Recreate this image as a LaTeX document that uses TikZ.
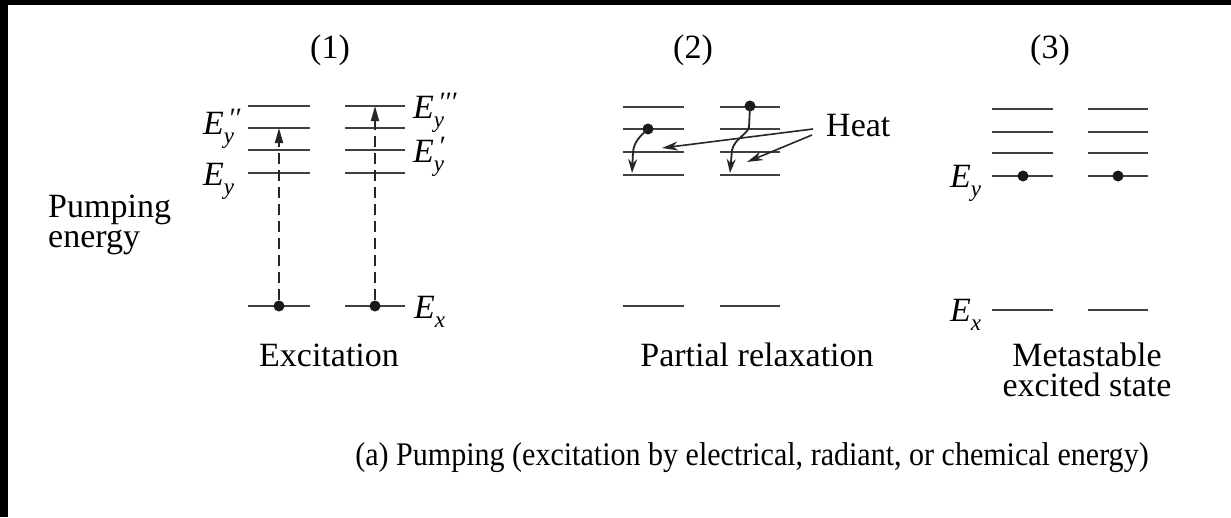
\documentclass[tikz,border=0pt]{standalone}
\usepackage{fontspec}
\newfontfamily\timesf{Liberation Serif}
\usetikzlibrary{arrows.meta}
\newcommand{\Elab}[2]{\textit{E}\rlap{\raisebox{-0.28em}{\fontsize{23}{23}\selectfont\textit{#1}}}\kern0.12em\raisebox{0.2em}{\fontsize{28}{28}\selectfont\textit{#2}}}
\begin{document}
\begin{tikzpicture}[x=1pt,y=-1pt,
  lvl/.style={line width=2.6pt,draw=black!75},
  dot/.style={circle,fill=black!90,inner sep=0pt,minimum size=11pt},
  lbl/.style={font=\timesf\fontsize{34}{30}\selectfont,inner sep=0pt},
  captxt/.style={font=\timesf\fontsize{33}{33}\selectfont,inner sep=0pt},
  pump/.style={line width=1.8pt,draw=black!85,dash pattern=on 11pt off 6pt,-{Triangle[length=15pt,width=8pt]}},
  relax/.style={line width=1.8pt,draw=black!85,-{Stealth[length=14pt,width=9pt]}},
  heat/.style={line width=1.6pt,draw=black!85,-{Stealth[length=16pt,width=9pt]}}]
\useasboundingbox (0,0) rectangle (1231,517);
\fill[white] (0,0) rectangle (1231,517);
\fill[black] (0,0) rectangle (1231,5);
\fill[black] (0,0) rectangle (8,517);
% energy levels
\foreach \xa/\xb in {248/310,345/405}
  \foreach \y in {106,128,150,173,306}
    \draw[lvl] (\xa,\y) -- (\xb,\y);
\foreach \xa/\xb in {623/684,720/780}
  \foreach \y in {107,129,152,175,306}
    \draw[lvl] (\xa,\y) -- (\xb,\y);
\foreach \xa/\xb in {992/1053,1088/1148}
  \foreach \y in {109,132,153,176,310}
    \draw[lvl] (\xa,\y) -- (\xb,\y);
% titles
\node[lbl] (t1) at (330,50) {(1)};
\node[lbl] (t2) at (693,50) {(2)};
\node[lbl] (t3) at (1050,50) {(3)};
\node[lbl,anchor=base west] (pe1) at (48,217) {Pumping};
\node[lbl,anchor=base west] (pe2) at (48,247) {energy};
% group 1
\node[dot] (a1) at (279,306) {};
\node[dot] (a2) at (375,306) {};
\coordinate (a1t) at (279,128);
\coordinate (a2t) at (375,106);
\draw[pump] (a1) -- (a1t);
\draw[pump] (a2) -- (a2t);
\node[lbl,anchor=base west] (ey2) at (203,134) {\Elab{y}{′′}};
\node[lbl,anchor=base west] (ey0) at (203,185) {\Elab{y}{}};
\node[lbl,anchor=base west] (ey3) at (413,118) {\Elab{y}{′′′}};
\node[lbl,anchor=base west] (ey1) at (413,162) {\Elab{y}{′}};
\node[lbl,anchor=base west] (ex1) at (414,318) {\Elab{x}{}};
\node[lbl] (c1) at (329,355) {Excitation};
% group 2
\node[dot] (b1) at (648,129) {};
\node[dot] (b2) at (750,106) {};
\coordinate (b1e) at (632,173);
\coordinate (b2e) at (730,173);
\draw[relax] (b1.center) .. controls (640,136) and (634,142) .. (633,152) -- (b1e);
\draw[relax] (b2.center) -- (749,127) .. controls (747,135) and (735,138) .. (732,150) -- (b2e);
\node[lbl,anchor=west] (heat) at (826,126) {Heat};
\coordinate (hs1) at (813,129);
\coordinate (hs2) at (812,135);
\coordinate (h1) at (662,148);
\coordinate (h2) at (747,162);
\draw[heat] (hs1) -- (h1);
\draw[heat] (hs2) -- (h2);
\node[lbl] (c2) at (757,355) {Partial relaxation};
% group 3
\node[dot] (d1) at (1023,176) {};
\node[dot] (d2) at (1118,176) {};
\node[lbl,anchor=base west] (ey4) at (950,187) {\Elab{y}{}};
\node[lbl,anchor=base west] (ex2) at (950,321) {\Elab{x}{}};
\node[lbl,align=center] (c3) at (1087,370) {Metastable\\excited state};
% caption
\node[captxt] (captext) at (752,458) {\scalebox{0.91}[1]{(a) Pumping (excitation by electrical, radiant, or chemical energy)}};
\end{tikzpicture}
\end{document}
